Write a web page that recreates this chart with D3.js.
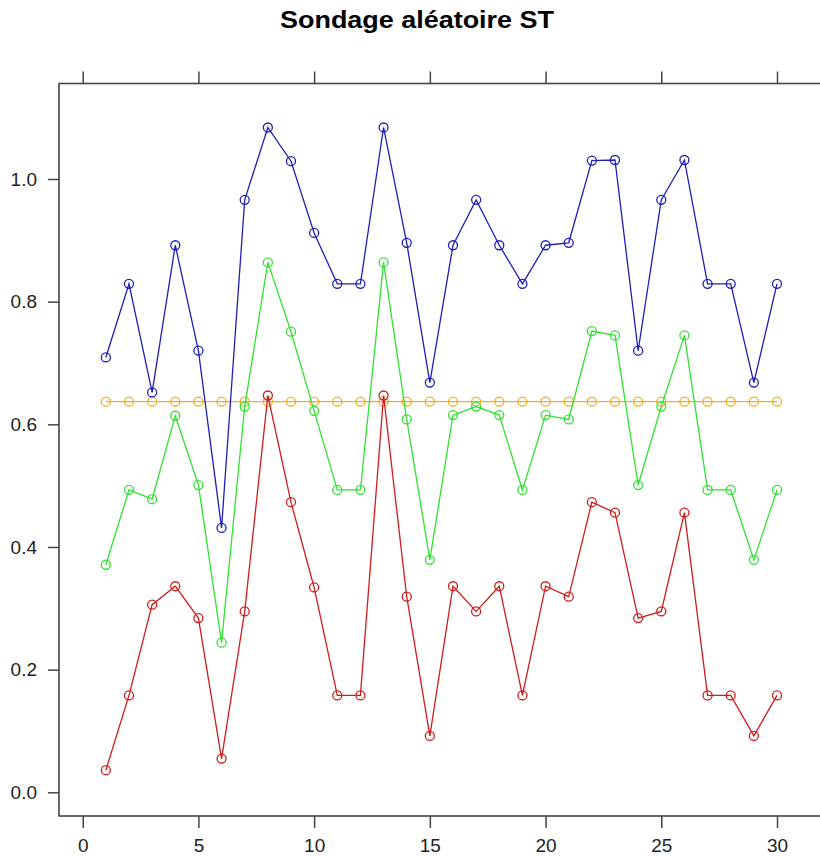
<!DOCTYPE html>
<html>
<head>
<meta charset="utf-8">
<script src="https://cdn.jsdelivr.net/npm/d3@7"></script>
<style>
  body { margin: 0; background: #fff; }
  svg { display: block; font-family: "Liberation Sans", Arial, sans-serif; }
</style>
</head>
<body>
<div id="chart"></div>
<script>
// data
var xValues = d3.range(1, 31);
var upper = [0.709, 0.829, 0.652, 0.892, 0.720, 0.431, 0.966, 1.084, 1.029, 0.912,
             0.829, 0.829, 1.084, 0.896, 0.668, 0.892, 0.966, 0.892, 0.829, 0.892,
             0.896, 1.030, 1.031, 0.720, 0.966, 1.031, 0.829, 0.829, 0.668, 0.829];
var estimate = [0.371, 0.493, 0.478, 0.614, 0.501, 0.244, 0.629, 0.864, 0.751, 0.622,
                0.493, 0.493, 0.864, 0.608, 0.379, 0.615, 0.629, 0.615, 0.493, 0.615,
                0.608, 0.752, 0.745, 0.501, 0.629, 0.745, 0.493, 0.493, 0.379, 0.493];
var lower = [0.036, 0.158, 0.306, 0.336, 0.284, 0.055, 0.295, 0.647, 0.473, 0.334,
             0.158, 0.158, 0.647, 0.319, 0.092, 0.336, 0.295, 0.336, 0.158, 0.336,
             0.319, 0.473, 0.456, 0.284, 0.295, 0.456, 0.158, 0.158, 0.092, 0.158];
var trueValue = 0.637;
var xTicks = [0, 5, 10, 15, 20, 25, 30];
var yTicks = [0, 0.2, 0.4, 0.6, 0.8, 1.0];

var width = 820;
var height = 857;

var frame = { left: 59, right: 840, top: 83.5, bottom: 816 };

var x = d3.scaleLinear().domain([0, 30]).range([82.7, 777]);
var y = d3.scaleLinear().domain([0, 1]).range([792.3, 179]);

var svg = d3.select("#chart").append("svg")
    .attr("width", width)
    .attr("height", height);

svg.append("text")
    .attr("x", 417)
    .attr("y", 28)
    .attr("text-anchor", "middle")
    .attr("textLength", 274)
    .attr("lengthAdjust", "spacingAndGlyphs")
    .style("font-size", "24px")
    .style("font-weight", "bold")
    .style("fill", "#000")
    .text("Sondage aléatoire ST");

// axes
var bottomAxis = d3.axisBottom(x).tickValues(xTicks).tickSize(12).tickPadding(11)
    .tickFormat(d3.format("d"));
var topAxis = d3.axisTop(x).tickValues(xTicks).tickSize(12).tickFormat("");
var leftAxis = d3.axisLeft(y).tickValues(yTicks).tickSize(11).tickPadding(11)
    .tickFormat(d3.format(".1f"));

function styleAxis(g) {
    g.select(".domain").remove();
    g.selectAll("line").attr("stroke", "#444").attr("stroke-width", 1.5);
    g.selectAll("text").style("font-size", "19px").attr("fill", "#222");
}

svg.append("g").attr("transform", `translate(0,${frame.bottom})`).call(bottomAxis).call(styleAxis);
svg.append("g").attr("transform", `translate(0,${frame.top})`).call(topAxis).call(styleAxis);
svg.append("g").attr("transform", `translate(${frame.left},0)`).call(leftAxis).call(styleAxis);

svg.append("rect")
    .attr("x", frame.left)
    .attr("y", frame.top)
    .attr("width", frame.right - frame.left)
    .attr("height", frame.bottom - frame.top)
    .attr("fill", "none")
    .attr("stroke", "#444")
    .attr("stroke-width", 1.6);

var series = [
    { values: trueValue, color: "#f5ad1c" },
    { values: upper, color: "#1f1fb8" },
    { values: estimate, color: "#33e033" },
    { values: lower, color: "#d01c1c" }
];

var line = d3.line()
    .x(function (d) { return x(d.x); })
    .y(function (d) { return y(d.y); });

series.forEach(function (s) {
    var pts = xValues.map(function (xv, i) {
        return { x: xv, y: Array.isArray(s.values) ? s.values[i] : s.values };
    });
    var g = svg.append("g");
    g.append("path")
        .datum(pts)
        .attr("d", line)
        .attr("fill", "none")
        .attr("stroke", s.color)
        .attr("stroke-width", 1.3);
    g.selectAll("circle")
        .data(pts)
        .enter().append("circle")
        .attr("cx", function (d) { return x(d.x); })
        .attr("cy", function (d) { return y(d.y); })
        .attr("r", 4.5)
        .attr("fill", "none")
        .attr("stroke", s.color)
        .attr("stroke-width", 1.3);
});
</script>
</body>
</html>
